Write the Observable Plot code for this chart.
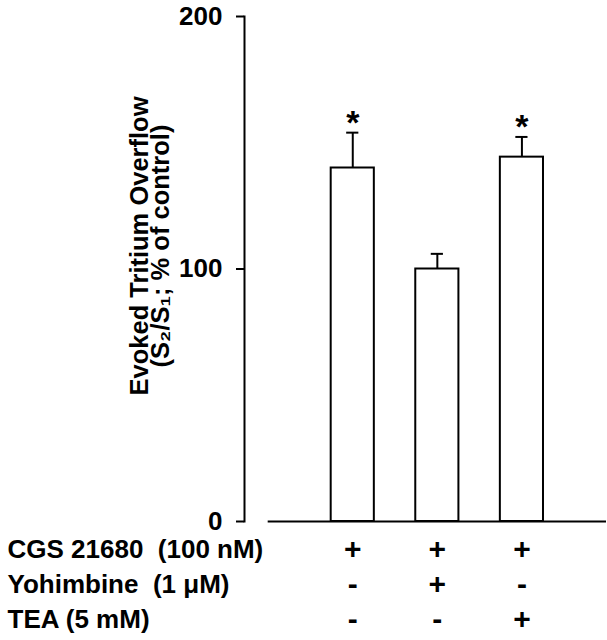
<!DOCTYPE html>
<html>
<head>
<meta charset="utf-8">
<script src="https://cdn.jsdelivr.net/npm/d3@7"></script>
<script src="https://cdn.jsdelivr.net/npm/@observablehq/plot@0.6"></script>
<style>
  html, body { margin: 0; padding: 0; background: #fff; }
  #chart svg { display: block; white-space: pre; }
</style>
</head>
<body>
<div id="chart"></div>
<script>
// ---- data ----
const conditions = [1, 2, 3];                 // bar positions (order of treatment groups)
const means = [140, 100, 144.3];              // % of control
const sems = [14, 6, 8];                      // upward error bars
const significant = [true, false, true];      // asterisks
const yTicks = [0, 100, 200];
const rowLabels = ["CGS 21680  (100 nM)", "Yohimbine  (1 \u03BCM)", "TEA (5 mM)"];
const cgsSigns = ["+", "+", "+"];
const yohSigns = ["-", "+", "-"];
const teaSigns = ["-", "-", "+"];
const yTitle = "Evoked Tritium Overflow\n(S\u2082/S\u2081; % of control)";

// ---- derived tables ----
const bars = conditions.map((c, i) => ({c, mean: means[i], sem: sems[i], top: means[i] + sems[i], sig: significant[i]}));
const signRows = [cgsSigns, yohSigns, teaSigns];
const signCells = signRows.flatMap((row, r) => row.map((s, i) => ({row: r, c: conditions[i], s})));
const labelCells = rowLabels.map((t, r) => ({row: r, t}));

const W = 607;
const font = "'Liberation Sans', Arial, Helvetica, sans-serif";
const halfBar = 0.255, halfCap = 0.072;
const xDomain = [-0.28, conditions.length + 1];
const xCfg = {type: "linear", domain: xDomain, axis: null};

const main = Plot.plot({
  width: W, height: 530,
  marginLeft: 244, marginRight: 1, marginTop: 16, marginBottom: 9,
  style: {fontFamily: font, fontWeight: "bold", background: "white", color: "black", overflow: "visible"},
  x: xCfg,
  y: {domain: [0, 200], axis: null},
  marks: [
    Plot.frame({anchor: "left", stroke: "black", strokeWidth: 2}),
    Plot.axisY({ticks: yTicks, tickSize: 8, tickPadding: 14, fontSize: 26, fontWeight: "bold", label: null, strokeWidth: 2, stroke: "black"}),
    Plot.rectY(bars, {x1: d => d.c - halfBar, x2: d => d.c + halfBar, y1: 0, y2: "mean", fill: "white", stroke: "black", strokeWidth: 2}),
    Plot.ruleX(bars, {x: "c", y1: "mean", y2: "top", stroke: "black", strokeWidth: 2}),
    Plot.ruleY(bars, {y: "top", x1: d => d.c - halfCap, x2: d => d.c + halfCap, stroke: "black", strokeWidth: 2}),
    Plot.ruleY([0], {x1: conditions[0] - 1, x2: conditions[conditions.length - 1] + 1, stroke: "black", strokeWidth: 2}),
    Plot.text(bars.filter(d => d.sig), {x: "c", y: "top", text: () => "*", fontSize: 34, fontWeight: "bold", dy: -10, fill: "black"}),
    Plot.text([yTitle], {frameAnchor: "left", textAnchor: "middle", rotate: -90, text: d => d, fontSize: 25.5, fontWeight: "bold", lineHeight: 0.84, dx: -93, dy: -23, fill: "black"})
  ]
});

const table = Plot.plot({
  width: W, height: 110,
  marginLeft: 244, marginRight: 1, marginTop: 18.5, marginBottom: 20.5,
  style: {fontFamily: font, fontWeight: "bold", background: "white", color: "black", overflow: "visible"},
  x: xCfg,
  y: {type: "point", domain: [0, 1, 2], padding: 0, axis: null},
  marks: [
    Plot.text(signCells, {x: "c", y: "row", text: "s", fontSize: 30, fontWeight: "bold", fill: "black"}),
    Plot.text(labelCells, {y: "row", frameAnchor: "left", text: "t", textAnchor: "start", dx: -237, fontSize: 26, fontWeight: "bold", fill: "black"})
  ]
});

const root = document.getElementById("chart");
root.appendChild(main);
root.appendChild(table);
</script>
</body>
</html>
